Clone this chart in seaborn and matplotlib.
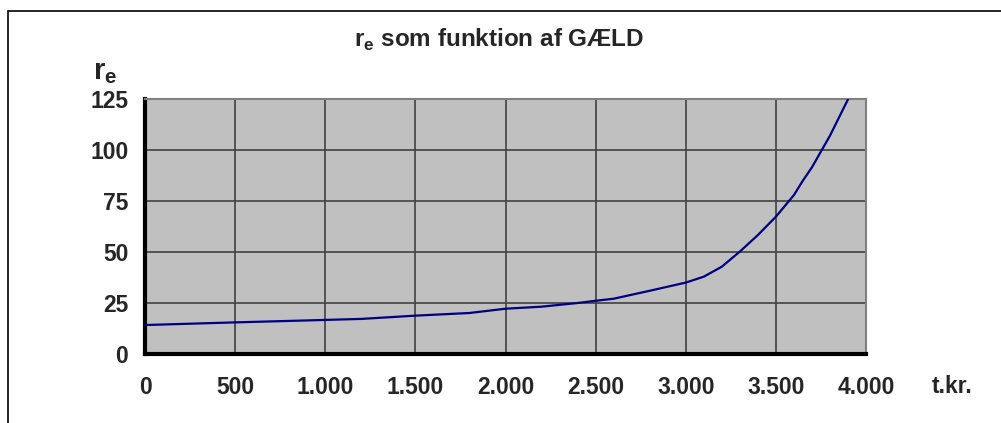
import matplotlib
matplotlib.use("Agg")
import matplotlib.pyplot as plt
import seaborn as sns
import pandas as pd
from matplotlib.patches import Rectangle

# data
gaeld = [0, 500, 1000, 1200, 1500, 1800, 2000, 2200, 2400, 2500, 2600, 2800,
         3000, 3100, 3200, 3300, 3400, 3500, 3600, 3650, 3700, 3800, 3900]
r_e = [14.2, 15.5, 16.7, 17.2, 18.8, 20.1, 22.2, 23.2, 25.0, 26.1, 27.1, 31.0,
       35.0, 37.9, 42.8, 50.2, 58.3, 67.3, 77.9, 85.0, 91.5, 107.0, 124.8]
x_ticks = [0, 500, 1000, 1500, 2000, 2500, 3000, 3500, 4000]
x_labels = ["0", "500", "1.000", "1.500", "2.000", "2.500", "3.000", "3.500", "4.000"]
y_ticks = [0, 25, 50, 75, 100, 125]

df = pd.DataFrame({"gaeld": gaeld, "r_e": r_e})

sns.set_style("white")
plt.rcParams["font.family"] = ["Liberation Sans", "DejaVu Sans"]
plt.rcParams["font.weight"] = "bold"

fig = plt.figure(figsize=(10.01, 4.23), dpi=100)
ax = fig.add_axes([145 / 1001, 1 - 354 / 423, (866 - 145) / 1001, (354 - 99) / 423])
ax.set_facecolor("#c0c0c0")

# outer chart border
fig.patches.append(Rectangle((8 / 1001, -0.1), 1.2, (423 - 11) / 423 + 0.1,
                             transform=fig.transFigure, fill=False,
                             edgecolor="black", linewidth=1.2, zorder=0))

sns.lineplot(data=df, x="gaeld", y="r_e", ax=ax, color="#000080", linewidth=1.6,
             zorder=5)

ax.set_xlim(0, 4000)
ax.set_ylim(0, 125)
ax.set_xticks(x_ticks)
ax.set_xticklabels(x_labels)
ax.set_yticks(y_ticks)
ax.grid(True, color="#404040", linewidth=1.2)
ax.set_axisbelow(True)

for s in ["top", "right"]:
    ax.spines[s].set_color("#808080")
    ax.spines[s].set_linewidth(1.5)
for s in ["left", "bottom"]:
    ax.spines[s].set_color("black")
    ax.spines[s].set_linewidth(3)

ax.tick_params(axis="both", which="major", direction="out", length=6, width=3,
               color="black", labelsize=16.5)
ax.tick_params(axis="x", pad=10)
ax.tick_params(axis="y", pad=6)
for lab in ax.get_xticklabels() + ax.get_yticklabels():
    lab.set_fontweight("bold")

ax.set_xlabel("")
ax.set_ylabel("")

fig.text(499 / 1001, 1 - 40 / 423, r"r$_\mathregular{e}$ som funktion af GÆLD",
         ha="center", va="center", fontsize=17.5, fontweight="bold")
fig.text(105 / 1001, 1 - 72 / 423, r"r$_\mathregular{e}$",
         ha="center", va="center", fontsize=21, fontweight="bold")
fig.text(952 / 1001, 1 - 386 / 423, "t.kr.",
         ha="center", va="center", fontsize=16.5, fontweight="bold")

fig.savefig("out.png", dpi=100)
